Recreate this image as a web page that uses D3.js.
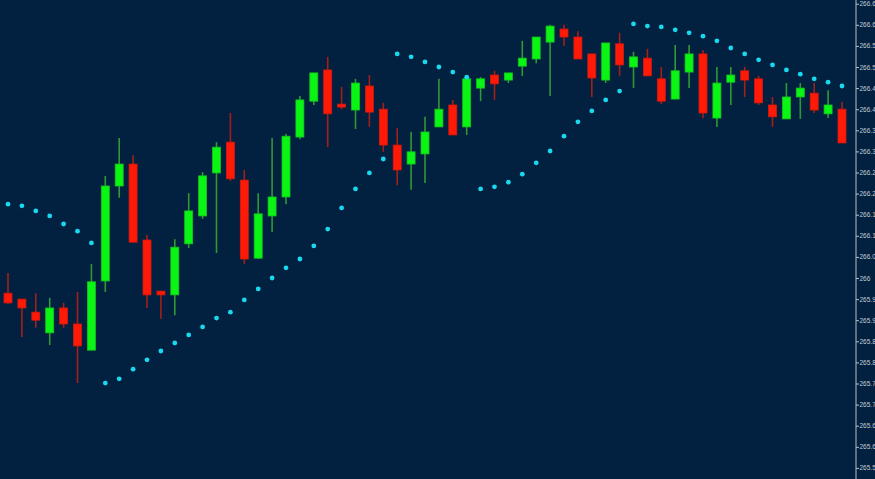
<!DOCTYPE html>
<html>
<head>
<meta charset="utf-8">
<script src="https://cdn.jsdelivr.net/npm/d3@7"></script>
<style>
  html, body { margin: 0; padding: 0; background: #02203f; overflow: hidden; }
  svg { display: block; }
</style>
</head>
<body>
<svg id="chart" width="875" height="479"></svg>
<script>
// Candle data
const opens  = [265.964,265.950,265.919,265.870,265.929,265.891,265.829,265.993,266.218,266.270,
                266.090,265.969,265.960,266.081,266.147,266.249,266.322,266.232,266.047,266.147,
                266.192,266.334,266.419,266.493,266.412,266.398,266.455,266.400,266.315,266.270,
                266.294,266.358,266.410,266.358,266.450,266.481,266.469,266.502,266.519,266.559,
                266.590,266.571,266.531,266.469,266.555,266.500,266.521,266.472,266.424,266.488,
                266.531,266.379,266.464,266.491,266.472,266.410,266.377,266.429,266.438,266.389,
                266.400];
const highs  = [266.012,265.950,265.964,265.953,265.941,265.967,266.033,266.242,266.332,266.291,
                266.102,265.969,266.092,266.201,266.251,266.322,266.391,266.256,266.201,266.332,
                266.341,266.431,266.486,266.524,266.453,266.472,266.481,266.415,266.355,266.346,
                266.382,266.472,266.422,266.481,266.476,266.491,266.486,266.562,266.571,266.600,
                266.600,266.585,266.531,266.557,266.581,266.536,266.543,266.500,266.552,266.552,
                266.540,266.500,266.500,266.500,266.479,266.429,266.462,266.462,266.462,266.445,
                266.417];
const lows   = [265.938,265.860,265.882,265.841,265.882,265.751,265.829,265.967,266.190,266.083,
                265.929,265.903,265.912,266.071,266.140,266.059,266.230,266.033,266.045,266.109,
                266.175,266.329,266.410,266.310,266.400,266.353,266.358,266.299,266.220,266.209,
                266.225,266.358,266.339,266.339,266.419,266.422,266.462,266.479,266.509,266.431,
                266.550,266.519,266.429,266.462,266.479,266.450,266.479,266.412,266.424,266.450,
                266.379,266.358,266.410,266.429,266.410,266.358,266.377,266.377,266.391,266.379,
                266.320];
const closes = [265.941,265.929,265.900,265.929,265.891,265.839,265.991,266.218,266.270,266.085,
                265.960,265.960,266.073,266.159,266.242,266.310,266.235,266.045,266.152,266.192,
                266.336,266.422,266.486,266.389,266.405,266.462,266.393,266.315,266.256,266.299,
                266.346,266.400,266.339,266.472,266.472,266.460,266.486,266.521,266.571,266.597,
                266.571,266.519,266.474,266.557,266.505,266.524,266.479,266.419,266.491,266.531,
                266.391,266.462,266.481,266.469,266.415,266.382,266.429,266.450,266.398,266.410,
                266.320];
// Parabolic SAR values
const sar = [266.175,266.171,266.159,266.147,266.128,266.111,266.083,265.751,265.761,265.784,
             265.806,265.827,265.846,265.865,265.884,265.905,265.919,265.948,265.974,266.000,
             266.024,266.045,266.076,266.116,266.166,266.211,266.249,266.282,266.531,266.524,
             266.512,266.500,266.488,266.476,266.211,266.216,266.227,266.246,266.273,266.301,
             266.336,266.370,266.396,266.422,266.443,266.602,266.597,266.595,266.588,266.581,
             266.573,266.562,266.545,266.531,266.517,266.505,266.493,266.483,266.472,266.464,
             266.455];
// Price axis ticks and labels
const tickValues = [265.50,265.55,265.60,265.65,265.70,265.75,265.80,265.85,265.90,265.95,
                    266.00,266.05,266.10,266.15,266.20,266.25,266.30,266.35,266.40,266.45,
                    266.50,266.55,266.60,266.65];
const tickLabels = ["265.5","265.55","265.6","265.65","265.7","265.75","265.8","265.85","265.9","265.95",
                    "266","266.05","266.1","266.15","266.2","266.25","266.3","266.35","266.4","266.45",
                    "266.5","266.55","266.6","266.65"];

const W = 875, H = 479;
const axisX = 856;
const svg = d3.select("#chart");

svg.append("rect").attr("width", W).attr("height", H).attr("fill", "#02203f");

const candles = opens.map((o, i) => ({ i, o, h: highs[i], l: lows[i], c: closes[i] }));

const x = d3.scaleLinear().domain([0, candles.length - 1]).range([8, 842]);
const y = d3.scaleLinear().domain([266, 266.6]).range([278, 24.8]);
const bodyW = 8;

const plot = svg.append("g");

// wicks
plot.selectAll("line.wick").data(candles).join("line")
  .attr("class", "wick")
  .attr("x1", d => x(d.i)).attr("x2", d => x(d.i))
  .attr("y1", d => y(d.h)).attr("y2", d => y(d.l))
  .attr("stroke", d => d.c >= d.o ? "#2f9a35" : "#a3201a")
  .attr("stroke-width", 1.6);

// bodies
plot.selectAll("rect.body").data(candles).join("rect")
  .attr("class", "body")
  .attr("x", d => x(d.i) - bodyW / 2)
  .attr("width", bodyW)
  .attr("y", d => y(Math.max(d.o, d.c)))
  .attr("height", d => Math.max(2, Math.abs(y(d.o) - y(d.c))))
  .attr("fill", d => d.c >= d.o ? "#0af514" : "#ff1a08")
  .attr("stroke", d => d.c >= d.o ? "#14c41e" : "#d41a0c")
  .attr("stroke-width", 0.8);

// SAR dots
plot.selectAll("circle.sar").data(sar).join("circle")
  .attr("class", "sar")
  .attr("cx", (d, i) => x(i))
  .attr("cy", d => y(d))
  .attr("r", 2.4)
  .attr("fill", "#1ad8ef");

// right price axis
const axis = d3.axisRight(y)
  .tickValues(tickValues)
  .tickFormat((d, i) => tickLabels[i])
  .tickSize(3)
  .tickPadding(0.5);

const ag = svg.append("g").attr("transform", `translate(${axisX},0)`).call(axis);
ag.select(".domain").remove();
ag.append("line").attr("x1", 0).attr("x2", 0).attr("y1", 0).attr("y2", H)
  .attr("stroke", "#b8c0c8").attr("stroke-width", 1);
ag.selectAll(".tick line").attr("stroke", "#b8c0c8");
ag.selectAll(".tick text")
  .attr("fill", "#c4ccd4")
  .style("font-family", "'Liberation Sans', Arial, sans-serif")
  .style("font-size", "6.5px");
</script>
</body>
</html>
